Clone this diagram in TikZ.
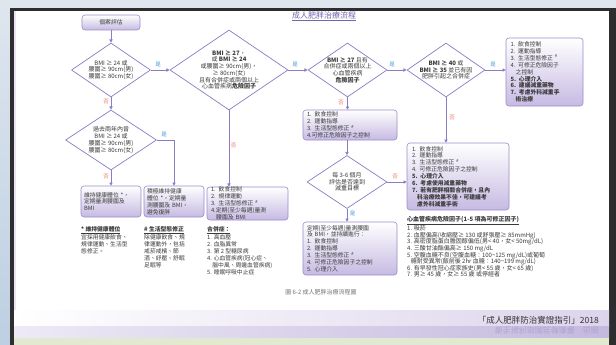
\documentclass[tikz,border=0pt]{standalone}
\usepackage{fontspec}
\setmainfont{Noto Sans CJK TC}
\usetikzlibrary{arrows.meta,shapes.geometric}
\definecolor{bgtop}{HTML}{DFE6EE}
\definecolor{bgleft}{HTML}{BDCFE2}
\definecolor{framecol}{HTML}{2E2E2E}
\definecolor{pline}{HTML}{8B7CC4}
\definecolor{bline}{HTML}{9A8CC9}
\definecolor{bbot}{HTML}{C6BAE2}
\definecolor{txt}{HTML}{3A3A3A}
\definecolor{yescol}{HTML}{3D9BDB}
\definecolor{nocol}{HTML}{EE7A68}
\definecolor{titlecol}{HTML}{7563AE}
\definecolor{lavA}{HTML}{DCD4EC}
\definecolor{lavB}{HTML}{C4B9DE}
\definecolor{greenband}{HTML}{E1EAD0}
\begin{document}
\begin{tikzpicture}[x=1pt,y=-1pt,
  fbox/.style={draw=bline, line width=0.6pt, rounded corners=3pt, top color=white, bottom color=bbot, inner sep=0pt, text=txt, align=left, font=\fontsize{5.8}{6.9}\selectfont},
  dia/.style={diamond, draw=pline, line width=0.7pt, fill=white, inner sep=0pt},
  dtext/.style={align=center, text=txt, font=\fontsize{6}{6.7}\selectfont, inner sep=0pt},
  conn/.style={draw=pline, line width=0.7pt, -{Triangle[length=3.2pt,width=3.2pt]}},
  yeslbl/.style={text=yescol, font=\fontsize{5.5}{6}\selectfont, inner sep=0pt},
  nolbl/.style={text=nocol, font=\fontsize{5.5}{6}\selectfont, inner sep=0pt},
  note/.style={anchor=north west, align=left, text=txt, inner sep=0pt, font=\fontsize{5.8}{7}\selectfont}]
\useasboundingbox (0,0) rectangle (616,345);
% background and frame
\fill[bgtop] (0,0) rectangle (616,345);
\fill[top color=bgtop, bottom color=bgleft] (0,0) rectangle (10,345);
\fill[white] (14,11) rectangle (609,345);
\fill[lavA!60] (14,11) rectangle (16,338);
\fill[framecol] (10,8) rectangle (616,11);
\fill[framecol] (10,8) rectangle (14,345);
\fill[framecol] (609,8) rectangle (616,345);
\fill[left color=white, right color=lavA] (14,310) rectangle (609,326);
\fill[left color=lavA!50, right color=lavB] (14,326) rectangle (609,338);
\fill[greenband] (14,338) rectangle (609,345);

% title
\node[text=titlecol, font=\fontsize{8}{9}\selectfont, inner sep=0pt] (title) at (324,16) {\underline{成人肥胖治療流程}};

% boxes
\node[fbox, align=center, minimum width=58pt, minimum height=15pt] (start) at (111,22.5) {個案評估};
\node[fbox, minimum width=60pt, minimum height=31pt, text width=54pt] (l1) at (111,201.5) {維持健康體位 *，\\定期量測腰圍及\\BMI};
\node[fbox, minimum width=60pt, minimum height=31pt, text width=54pt] (l2) at (174,201.5) {積極維持健康\\體位 *，定期量\\測腰圍及 BMI，\\避免復胖};
\node[fbox, minimum width=81pt, minimum height=33pt, text width=73pt] (l3) at (247.5,203.5) {1. 飲食控制\\2. 規律運動\\3. 生活型態修正 \textsuperscript{\#}\\4.定期(至少每週)量測\\\hspace*{0.9em}腰圍及 BMI};
\node[fbox, minimum width=94pt, minimum height=30pt, text width=86pt] (m1) at (350,125) {1. 飲食控制\\2. 運動指導\\3. 生活型態修正 \textsuperscript{\#}\\4.可修正危險因子之控制};
\node[fbox, minimum width=94pt, minimum height=53pt, text width=86pt] (m2) at (350,248.5) {定期(至少每週)量測腰圍\\及 BMI，並持續進行：\\1. 飲食控制\\2. 運動指導\\3. 生活型態修正 \textsuperscript{\#}\\4. 可修正危險因子之控制\\5. 心理介入};
\node[fbox, minimum width=77pt, minimum height=68pt, text width=68pt] (r1) at (544.5,72) {1. 飲食控制\\2. 運動指導\\3. 生活型態修正 \textsuperscript{\#}\\4. 可修正危險因子\\\hspace*{0.9em}之控制\\\textbf{5. 心理介入}\\\textbf{6. 建議減重藥物}\\\textbf{7. 考慮外科減重手}\\\hspace*{0.9em}\textbf{術治療}};
\node[fbox, minimum width=102pt, minimum height=67pt, text width=92pt] (r2) at (458,176.5) {1. 飲食控制\\2. 運動指導\\3. 生活型態修正 \textsuperscript{\#}\\4. 可修正危險因子之控制\\\textbf{5. 心理介入}\\\textbf{6. 考慮使用減重藥物}\\\textbf{7. 若有肥胖相關合併症，且內}\\\hspace*{0.9em}\textbf{科治療效果不佳，可建議考}\\\hspace*{0.9em}\textbf{慮外科減重手術}};

% diamonds
\node[dia, minimum width=79pt, minimum height=54pt] (d1) at (111,70) {};
\node[dtext] (d1t) at (d1.center) {BMI ≥ 24 或\\腰圍≥ 90cm(男)\\腰圍≥ 80cm(女)};
\node[dia, minimum width=118pt, minimum height=80pt] (d2) at (229,70) {};
\node[dtext] (d2t) at (d2.center) {\textbf{BMI ≥ 27}，\\或 \textbf{BMI ≥ 24}\\或腰圍≥ 90cm(男)，\\≥ 80cm(女)\\且有合併症或兩個以上\\心血管疾病\textbf{危險因子}};
\node[dia, minimum width=79pt, minimum height=54pt] (d3) at (347.5,70) {};
\node[dtext] (d3t) at (d3.center) {\textbf{BMI ≥ 27} 且有\\合併症或兩個以上\\心血管疾病\\\textbf{危險因子}};
\node[dia, minimum width=78pt, minimum height=54pt] (d4) at (446,70) {};
\node[dtext] (d4t) at (d4.center) {\textbf{BMI ≥ 40} 或\\\textbf{BMI ≥ 35} 並已有因\\肥胖引起之合併症};
\node[dia, minimum width=80pt, minimum height=53pt] (d5) at (347,182) {};
\node[dtext] (d5t) at (d5.center) {每 3-6 個月\\評估是否達到\\減重目標};
\node[dia, minimum width=91pt, minimum height=60pt] (d6) at (111,140) {};
\node[dtext] (d6t) at (d6.center) {過去兩年內曾\\BMI ≥ 24 或\\腰圍≥ 90cm(男)\\腰圍≥ 80cm(女)};

% connectors
\draw[conn] (start.south) -- (d1.north);
\draw[conn] (d1.east) -- (d2.west);
\draw[conn] (d2.east) -- (d3.west);
\draw[conn] (d3.east) -- (d4.west);
\draw[conn] (d4.east) -- (d4.east -| r1.west);
\draw[conn] (d4.south) -- (d4.south |- r2.north);
\draw[conn] (d3.south) -- (d3.south |- m1.north);
\draw[conn] (d5.north |- m1.south) -- (d5.north);
\draw[conn] (d5.east) -- (d5.east -| r2.west);
\draw[conn] (d5.south) -- (d5.south |- m2.north);
\draw[conn] (d2.south) -- (d2.south |- l3.north);
\draw[conn] (d1.south) -- (d6.north);
\draw[conn] (d6.south) -- (d6.south |- l1.north);
\coordinate (c6) at (l2.north |- d6.east);
\draw[conn] (d6.east) -- (c6) -- (l2.north);

% yes/no labels
\node[yeslbl] (y1) at (158,65) {是};
\node[yeslbl] (y2) at (295,65) {是};
\node[yeslbl] (y3) at (392,65) {是};
\node[yeslbl] (y4) at (493,65) {是};
\node[yeslbl] (y5) at (352.5,214) {是};
\node[yeslbl] (y6) at (164,135) {是};
\node[nolbl] (n1) at (106,102) {否};
\node[nolbl] (n2) at (233.5,146) {否};
\node[nolbl] (n3) at (341,103) {否};
\node[nolbl] (n4) at (452,118) {否};
\node[nolbl] (n5) at (395,177) {否};
\node[nolbl] (n6) at (106,177) {否};

% notes
\node[note] (nt1) at (81,226) {\textbf{\underline{* 維持健康體位}}\\宜採用健康飲食、\\規律運動、生活型\\態修正。};
\node[note] (nt2) at (144,226) {\textbf{\underline{\# 生活型態修正}}\\除健康飲食、規\\律運動外，包括\\戒菸戒檳、節\\酒、紓壓、舒眠\\足眠等};
\node[note] (nt3) at (207,226) {\textbf{\underline{合併症：}}\\1. 高血壓\\2. 血脂異常\\3. 第 2 型糖尿病\\4. 心血管疾病(冠心症、\\\hspace*{0.9em}腦中風、周邊血管疾病)\\5. 睡眠呼吸中止症};
\node[note, font=\fontsize{6}{6.6}\selectfont] (nt4) at (407,216) {\textbf{\underline{心血管疾病危險因子(1-5 項為可修正因子)}}\\1. 吸菸\\2. 血壓偏高(收縮壓≥ 130 或舒張壓≥ 85mmHg)\\3. 高密度脂蛋白膽固醇偏低(男< 40，女< 50mg/dL)\\4. 三酸甘油酯偏高≥ 150 mg/dL\\5. 空腹血糖不良(空腹血糖：100\textasciitilde125 mg/dL)或葡萄\\\hspace*{0.6em}糖耐受異常(飯前後 2hr 血糖：140\textasciitilde199 mg/dL)\\6. 有早發性冠心症家族史(男< 55 歲，女< 65 歲)\\7. 男≥ 45 歲，女≥ 55 歲 或停經者};

% caption and citation
\node[text=black!55, font=\fontsize{6}{7}\selectfont, inner sep=0pt] (cap) at (321,292) {圖 6-2 成人肥胖治療流程圖};
\node[anchor=east, text=black!80, font=\fontsize{8.5}{9}\selectfont, inner sep=0pt] (cite) at (599,320) {「成人肥胖防治實證指引」2018};
\node[anchor=east, text=titlecol!70, opacity=0.6, font=\fontsize{8}{9}\selectfont, inner sep=0pt] (mirror) at (599,331) {\scalebox{1}[-1]{衛生福利部國民健康署　出版}};
\end{tikzpicture}
\end{document}
